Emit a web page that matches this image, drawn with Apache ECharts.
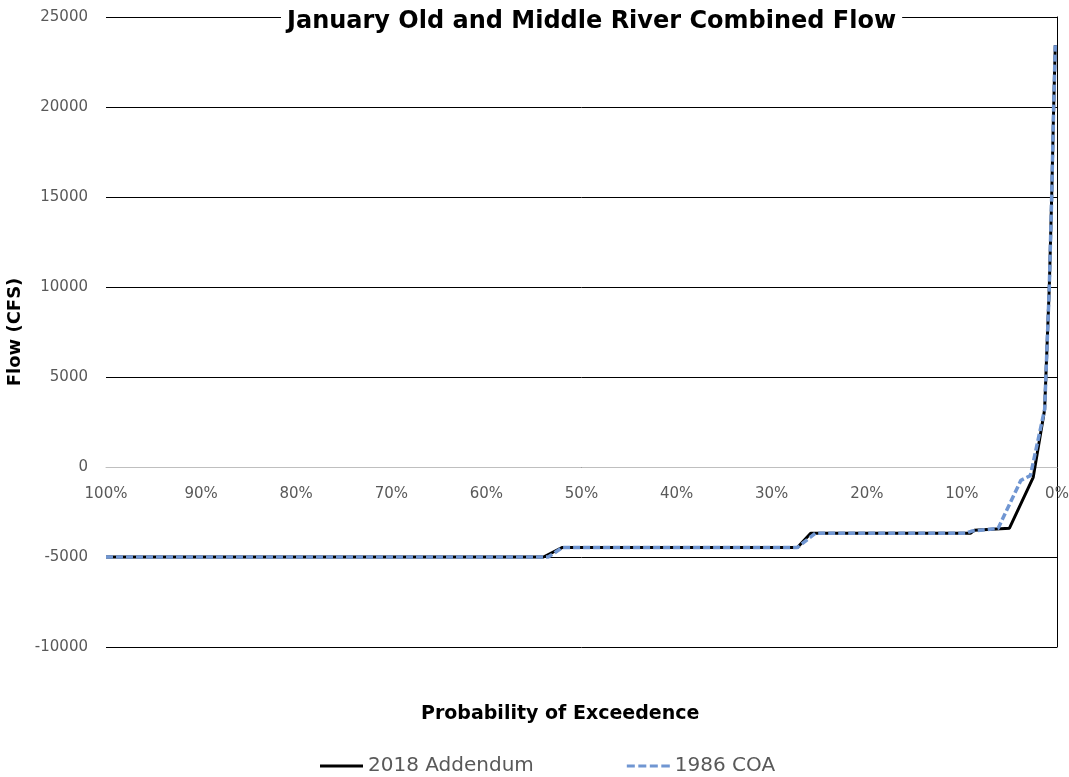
<!DOCTYPE html>
<html>
<head>
<meta charset="utf-8">
<script src="https://cdn.jsdelivr.net/npm/echarts@6/dist/echarts.min.js"></script>
<style>
html,body{margin:0;padding:0;background:#fff;}
#chart{width:1069px;height:777px;}
</style>
</head>
<body>
<div id="chart"></div>
<script>
// Probability of exceedence (%) and flow (CFS)
const addendumExceed = [100, 54.0, 52.0, 27.3, 25.9, 9.1, 8.7, 5.0, 2.5, 1.3, 0.81, 0.56, 0.35, 0.18];
const addendumFlow   = [-5000, -5000, -4470, -4470, -3680, -3680, -3520, -3400, -570, 3200, 10000, 15000, 20000, 23430];
const coaExceed = [100, 53.5, 52.0, 27.3, 25.4, 9.6, 8.9, 6.2, 3.8, 2.8, 1.3, 0.81, 0.56, 0.35, 0.18];
const coaFlow   = [-5000, -5000, -4470, -4470, -3680, -3680, -3550, -3420, -740, -480, 3200, 10000, 15000, 20000, 23430];
const seriesNames = ['2018 Addendum', '1986 COA'];
const yTicks = {min: -10000, max: 25000, step: 5000};
const xTicks = {min: 0, max: 100, step: 10};

const pairs = (xs, ys) => xs.map((x, i) => [x, ys[i]]);
const gray = '#595959';
const blue = '#7096D2';

const chart = echarts.init(document.getElementById('chart'), null, {renderer: 'canvas'});
chart.setOption({
  animation: false,
  backgroundColor: '#fff',
  title: {
    text: 'January Old and Middle River Combined Flow',
    left: 281, top: 9,
    backgroundColor: '#fff',
    padding: [1, 6],
    textStyle: {fontFamily: 'DejaVu Sans', fontWeight: 'bold', fontSize: 24, color: '#000'}
  },
  grid: {left: 106, right: 12, top: 17, bottom: 130, containLabel: false, outerBoundsMode: 'none'},
  legend: {
    left: 320, top: 756, padding: 0,
    itemWidth: 43, itemHeight: 3, itemGap: 93,
    textStyle: {fontFamily: 'DejaVu Sans', fontSize: 20, color: gray},
    data: [
      {name: seriesNames[0], icon: 'path://M0,0h43v3h-43z'},
      {name: seriesNames[1], icon: 'path://M0,0h8v3h-8zM11.5,0h8v3h-8zM23,0h8v3h-8zM34.5,0h8.5v3h-8.5z'}
    ]
  },
  graphic: [{
    type: 'text', left: 421, top: 705,
    style: {text: 'Probability of Exceedence', fontFamily: 'DejaVu Sans', fontWeight: 'bold', fontSize: 19, fill: '#000'}
  }],
  xAxis: {
    type: 'value', inverse: true, position: 'bottom', offset: -180,
    min: xTicks.min, max: xTicks.max, interval: xTicks.step,
    axisLine: {onZero: false, lineStyle: {color: '#BFBFBF', width: 1}},
    axisTick: {show: false},
    splitLine: {show: false},
    axisLabel: {formatter: v => v + '%', margin: 20, fontFamily: 'DejaVu Sans', fontSize: 15, color: gray, showMinLabel: true, showMaxLabel: true}
  },
  yAxis: [{
    type: 'value',
    min: yTicks.min, max: yTicks.max, interval: yTicks.step,
    name: 'Flow (CFS)', nameLocation: 'middle', nameRotate: 90, nameGap: 80,
    nameTextStyle: {fontFamily: 'DejaVu Sans', fontWeight: 'bold', fontSize: 18, color: '#000'},
    axisLine: {show: true, lineStyle: {color: '#BFBFBF', width: 1}},
    axisTick: {show: false},
    splitLine: {show: true, lineStyle: {color: '#000', width: 1}},
    axisLabel: {margin: 18, formatter: v => String(v), fontFamily: 'DejaVu Sans', fontSize: 15, color: gray}
  }, {
    type: 'value', position: 'right',
    min: yTicks.min, max: yTicks.max, interval: yTicks.step,
    axisLine: {show: true, lineStyle: {color: '#000', width: 1}},
    axisTick: {show: false}, axisLabel: {show: false}, splitLine: {show: false}
  }],
  series: [{
    name: seriesNames[0], type: 'line', showSymbol: false, symbol: 'none',
    data: pairs(addendumExceed, addendumFlow),
    lineStyle: {color: '#000', width: 3},
    itemStyle: {color: '#000'},
    z: 3
  }, {
    name: seriesNames[1], type: 'line', showSymbol: false, symbol: 'none',
    data: pairs(coaExceed, coaFlow),
    lineStyle: {color: blue, width: 3.5, type: [7, 3]},
    itemStyle: {color: blue},
    z: 4
  }]
});
</script>
</body>
</html>
